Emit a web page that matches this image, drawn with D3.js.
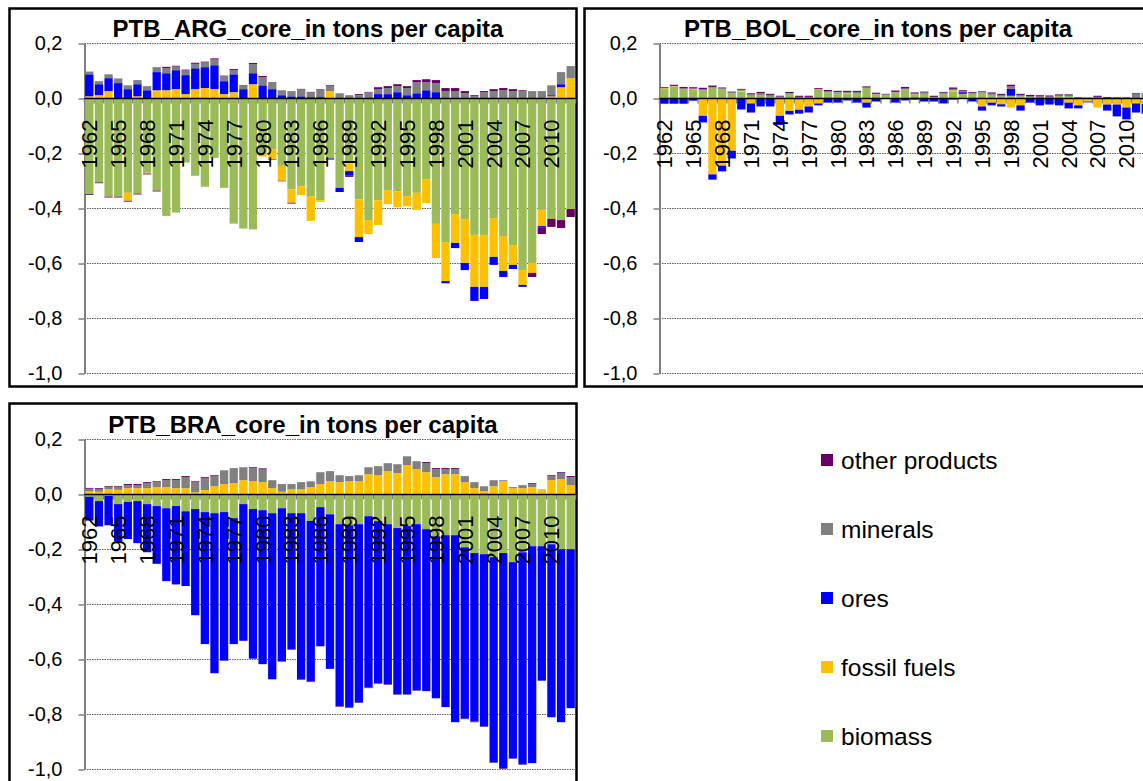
<!DOCTYPE html>
<html><head><meta charset="utf-8">
<script src="https://cdn.jsdelivr.net/npm/d3@7"></script>
<style>
body{margin:0;background:#fff;}
svg{display:block;}
</style>
</head><body>
<svg id="chart" width="1143" height="781"></svg>
<script>
const years = [1962,1963,1964,1965,1966,1967,1968,1969,1970,1971,1972,1973,1974,1975,1976,1977,1978,1979,1980,1981,
  1982,1983,1984,1985,1986,1987,1988,1989,1990,1991,1992,1993,1994,1995,1996,1997,1998,1999,2000,2001,
  2002,2003,2004,2005,2006,2007,2008,2009,2010,2011,2012];
const yearTickLabels = [1962,1965,1968,1971,1974,1977,1980,1983,1986,1989,1992,1995,1998,2001,2004,2007,2010];
const yTicks = [0.2,0,-0.2,-0.4,-0.6,-0.8,-1.0];
const seriesNames = ["biomass","fossil fuels","ores","minerals","other products"];
const seriesColors = ["#9BBB59","#FFC000","#0000FF","#808080","#660066"];
const legendOrder = ["other products","minerals","ores","fossil fuels","biomass"];

// ARG
const argBiomass = [-0.348,-0.305,-0.357,-0.357,-0.343,-0.346,-0.270,-0.335,-0.427,-0.415,
  -0.233,-0.281,-0.321,-0.216,-0.325,-0.455,-0.473,-0.476,-0.201,-0.184,
  -0.245,-0.330,-0.319,-0.355,-0.370,-0.218,-0.325,-0.236,-0.367,-0.442,
  -0.370,-0.333,-0.337,-0.355,-0.343,-0.293,-0.456,-0.522,-0.420,-0.438,
  -0.496,-0.496,-0.435,-0.500,-0.533,-0.624,-0.598,-0.405,-0.438,-0.442,-0.402];
const argFossil = [0.008,0.012,0.027,0,-0.029,0.008,-0.003,0.030,0.030,0.034,
  0.016,0.034,0.038,0.034,0.016,0.023,0,0.052,-0.010,-0.036,
  -0.054,-0.049,-0.032,-0.090,-0.006,0.027,0,-0.028,-0.137,-0.051,
  -0.090,-0.051,-0.058,-0.037,-0.062,-0.087,-0.124,-0.142,-0.105,-0.160,
  -0.189,-0.189,-0.141,-0.127,-0.072,-0.054,-0.036,-0.059,0.008,0.041,0.074];
const argOres = [0.080,0.040,0.047,0.056,0.034,0.044,0.030,0.066,0.062,0.069,
  0.069,0.076,0.076,0.087,0.047,0.065,0.034,0.040,0.048,0.034,
  0.012,0.008,0.008,0.005,0.005,-0.004,-0.015,-0.017,-0.018,0,
  0.016,0.016,0.023,0.012,0.019,0.030,0.023,-0.008,-0.019,-0.026,
  -0.051,-0.044,-0.029,-0.022,-0.015,-0.007,0,-0.006,0.004,0.011,0];
const argMinerals = [0.010,0.011,0.014,0.017,0.014,0.015,0.015,0.018,0.019,0.013,
  0.017,0.016,0.017,0.021,0.021,0.015,0.013,0.033,0.030,0.026,
  0.018,0.019,0.025,0.017,0.027,0.018,0.019,0.012,0.012,0.022,
  0.018,0.022,0.022,0.026,0.040,0.029,0.033,0.027,0.027,0.019,
  0.008,0.023,0.027,0.030,0.027,0.027,0.027,0.027,0.036,0.044,0.044];
const argOther = [-0.003,-0.003,-0.003,-0.003,-0.003,-0.003,-0.003,-0.003,0.004,0.003,
  0.003,0.004,0.003,0.004,0,0.004,0.002,0.004,0.004,-0.002,
  -0.002,-0.003,0.002,0.002,0.002,0.003,0,-0.004,0.004,0.002,
  0.007,0.007,0.007,0.007,0.008,0.011,0.011,0.011,0.011,0.008,
  0.004,0.004,0.007,0.008,0.007,0.003,-0.015,-0.023,-0.029,-0.029,-0.029];

// BOL
const bolBiomass = [0.034,0.042,0.033,0.031,0.029,0.039,0.034,0.019,0.025,0.010,
  0.012,0.006,0.003,0.017,-0.006,0.002,0.034,0.023,0.021,0.017,
  0.020,0.038,0.015,0.013,0.022,0.033,0.013,0.017,0.004,0.017,
  0.026,0.017,0.017,0.021,0.013,0.008,0.010,0.008,0.005,0.002,
  0.002,0.009,0.009,0.001,0.001,0.001,0,0,0,0.001,0.001];
const bolFossil = [0.003,0.002,0,0.003,-0.063,-0.276,-0.244,-0.190,0.003,-0.018,
  0,0,-0.063,-0.045,-0.035,-0.029,-0.018,0,0,0.003,
  0,-0.015,0,0,0,0,0.002,0,0,0,
  0.004,0,0,-0.029,-0.015,-0.021,-0.033,-0.025,0,0,
  0,0,-0.015,-0.025,-0.011,-0.033,-0.022,-0.022,-0.033,-0.018,-0.020];
const bolOres = [-0.019,-0.019,-0.019,-0.008,-0.024,-0.019,-0.021,-0.028,-0.040,-0.033,
  -0.029,-0.029,-0.033,-0.013,-0.014,-0.022,-0.007,-0.015,-0.015,-0.007,
  -0.015,-0.018,-0.011,-0.002,-0.015,-0.007,-0.004,-0.011,-0.011,-0.018,
  -0.004,0.006,-0.011,-0.015,-0.010,-0.008,0.025,-0.019,-0.015,-0.025,
  -0.022,-0.025,-0.021,-0.011,-0.003,0,-0.022,-0.043,-0.043,-0.033,-0.035];
const bolMinerals = [0.001,0.002,0.004,0.003,0.005,0.003,0.003,0.003,0.004,0.005,
  0.007,0.007,0.004,0.003,0.006,0.004,0.001,0.003,0.003,0.004,
  0.004,0.002,0.002,0.002,0.002,0.003,0.003,0.005,0.002,0.004,
  0.005,0.004,0.004,0.002,0.005,0.005,0.009,0.005,0.004,0.006,
  0.005,0.002,0.002,0.002,0,0.005,0.002,0.001,0.001,0.015,0.015];
const bolOther = [0.003,0.004,0.005,0.004,0.005,0.005,0.003,0.003,0.003,0.004,
  0.005,0.004,0.003,0.004,0.004,0.004,0.003,0.005,0.004,0.004,
  0.004,0.004,0.004,0.002,0.005,0.006,0.004,0.003,0.004,0.003,
  0.005,0.003,0.003,0.003,0.004,0.004,0.006,0.004,0.004,0.004,
  0.004,0.004,0.004,0.002,0.002,0.004,0.003,0.003,0.003,0.003,0.003];

// BRA
const braBiomass = [-0.008,-0.024,-0.005,-0.035,-0.027,-0.024,-0.035,-0.042,-0.050,-0.042,
  -0.061,-0.053,-0.064,-0.068,-0.064,-0.086,-0.035,-0.053,-0.057,-0.068,
  -0.050,-0.068,-0.068,-0.096,-0.046,-0.072,-0.108,-0.112,-0.108,-0.079,
  -0.097,-0.108,-0.122,-0.115,-0.108,-0.126,-0.152,-0.148,-0.148,-0.192,
  -0.213,-0.217,-0.228,-0.213,-0.246,-0.210,-0.188,-0.188,-0.181,-0.199,-0.199];
const braFossil = [0.012,0.010,0.019,0.017,0.023,0.023,0.023,0.027,0.027,0.023,
  0.023,0.008,0.016,0.030,0.038,0.041,0.052,0.048,0.045,0.023,
  0.010,0.019,0.019,0.027,0.038,0.048,0.045,0.048,0.048,0.074,
  0.070,0.085,0.078,0.107,0.092,0.081,0.063,0.074,0.074,0.045,
  0.023,0.012,0.030,0.048,0.023,0.023,0.027,0.016,0.052,0.056,0.034];
const braOres = [-0.087,-0.092,-0.107,-0.135,-0.135,-0.153,-0.175,-0.210,-0.265,-0.285,
  -0.272,-0.386,-0.480,-0.582,-0.539,-0.458,-0.497,-0.544,-0.560,-0.604,
  -0.556,-0.495,-0.604,-0.584,-0.506,-0.562,-0.662,-0.662,-0.648,-0.623,
  -0.589,-0.582,-0.604,-0.611,-0.604,-0.589,-0.589,-0.625,-0.680,-0.623,
  -0.613,-0.626,-0.746,-0.783,-0.713,-0.771,-0.789,-0.489,-0.629,-0.629,-0.578];
const braMinerals = [0.009,0.009,0.008,0.010,0.011,0.011,0.018,0.018,0.025,0.029,
  0.040,0.037,0.043,0.037,0.050,0.055,0.047,0.048,0.046,0.029,
  0.028,0.019,0.026,0.021,0.043,0.037,0.025,0.019,0.022,0.025,
  0.033,0.029,0.032,0.032,0.029,0.033,0.029,0.018,0.018,0.022,
  0.022,0.018,0.022,0.004,0.004,0.011,0.011,0.002,0.015,0.022,0.029];
const braOther = [0.003,0.004,0.003,0.003,0.004,0.004,0.004,0.003,0.004,0.004,
  0.004,0.003,0.004,0.003,-0.002,0,0,0.003,0.004,0,
  -0.002,-0.002,-0.002,-0.002,0,0,-0.002,-0.002,-0.002,-0.002,
  -0.002,-0.002,-0.002,-0.002,-0.002,0.004,0.004,0.004,0.004,-0.002,
  -0.002,-0.002,-0.002,-0.002,-0.002,-0.002,0.003,0,0.003,0.003,0.004];

const panels = [
  {title:"PTB_ARG_core_in tons per capita", series:[argBiomass,argFossil,argOres,argMinerals,argOther],
   axisX:84.5, top:43.5, box:[9.5,8.5,567,378], titleX:308},
  {title:"PTB_BOL_core_in tons per capita", series:[bolBiomass,bolFossil,bolOres,bolMinerals,bolOther],
   axisX:659.5, top:43.5, box:[584.5,8.5,600,378], titleX:878},
  {title:"PTB_BRA_core_in tons per capita", series:[braBiomass,braFossil,braOres,braMinerals,braOther],
   axisX:84.5, top:439.5, box:[9.5,403.5,567,400], titleX:303}
];

const FONT = "'Liberation Sans', Arial, Helvetica, sans-serif";
const svg = d3.select("#chart");
svg.append("rect").attr("width",1143).attr("height",781).attr("fill","#fff");

function fmt(v){
  const s = Math.abs(v).toFixed(1).replace(".", ",");
  return (v < -1e-9 ? "-" : "") + s;
}

panels.forEach(p => {
  const g = svg.append("g");
  const plotW = 491;
  const x = d3.scaleBand().domain(years).range([p.axisX, p.axisX + plotW]).paddingInner(0.14).paddingOuter(0.07);
  const y = d3.scaleLinear().domain([-1, 0.2]).range([p.top + 330, p.top]);

  // border
  g.append("rect").attr("x", p.box[0]).attr("y", p.box[1]).attr("width", p.box[2]).attr("height", p.box[3])
    .attr("fill", "none").attr("stroke", "#000").attr("stroke-width", 2.5);

  // gridlines
  g.append("g").selectAll("line").data(yTicks.filter(v => v !== 0)).join("line")
    .attr("x1", p.axisX).attr("x2", p.axisX + plotW)
    .attr("y1", d => y(d)).attr("y2", d => y(d))
    .attr("stroke", "#606060").attr("stroke-width", 1.2).attr("stroke-dasharray", "1.5,1");

  // y axis
  const ya = g.append("g").attr("transform", `translate(${p.axisX},0)`)
    .call(d3.axisLeft(y).tickValues(yTicks).tickFormat(fmt).tickSize(6).tickSizeOuter(0).tickPadding(16));
  ya.attr("font-family", FONT).attr("font-size", 20);
  ya.select(".domain").attr("stroke", "#808080").attr("stroke-width", 2);
  ya.selectAll(".tick line").attr("stroke", "#808080").attr("stroke-width", 1.5);
  ya.selectAll(".tick text").attr("fill", "#000");

  // category tick marks at band boundaries
  const step = x.step();
  const y0 = y(0);
  g.append("g").selectAll("line").data(years.concat([null])).join("line")
    .attr("x1", (d, i) => p.axisX + i * step).attr("x2", (d, i) => p.axisX + i * step)
    .attr("y1", y0).attr("y2", y0 + 5)
    .attr("stroke", "#808080").attr("stroke-width", 1.5);

  // stacked bars
  const rows = years.map((yr, i) => {
    const r = {year: yr};
    seriesNames.forEach((n, k) => r[n] = p.series[k][i]);
    return r;
  });
  const stacked = d3.stack().keys(seriesNames).offset(d3.stackOffsetDiverging)(rows);
  const color = d3.scaleOrdinal().domain(seriesNames).range(seriesColors);
  g.append("g").selectAll("g").data(stacked).join("g")
    .attr("fill", d => color(d.key))
    .selectAll("rect").data(d => d).join("rect")
    .attr("x", d => x(d.data.year))
    .attr("width", x.bandwidth())
    .attr("y", d => y(Math.max(d[0], d[1])))
    .attr("height", d => Math.abs(y(d[0]) - y(d[1])));

  // zero line
  g.append("line").attr("x1", p.axisX).attr("x2", p.axisX + plotW)
    .attr("y1", y0).attr("y2", y0).attr("stroke", "#000").attr("stroke-width", 1.5);

  // year labels (rotated)
  const xa = g.append("g").attr("transform", `translate(0,${y0})`)
    .call(d3.axisBottom(x).tickValues(yearTickLabels).tickSize(0).tickSizeOuter(0));
  xa.select(".domain").remove();
  xa.attr("font-family", FONT).attr("font-size", 22);
  xa.selectAll(".tick text")
    .attr("fill", "#000")
    .attr("transform", "rotate(-90)")
    .attr("text-anchor", "end")
    .attr("x", -21).attr("y", 0).attr("dy", "0.36em");

  // title
  g.append("text").attr("x", p.titleX).attr("y", p.top - 7)
    .attr("text-anchor", "middle").attr("font-family", FONT).attr("font-size", 24).attr("font-weight", "bold")
    .text(p.title);
});

// legend
const legendY = d3.scalePoint().domain(legendOrder).range([460, 736]);
const colorL = d3.scaleOrdinal().domain(seriesNames).range(seriesColors);
const lg = svg.append("g");
const items = lg.selectAll("g").data(legendOrder).join("g")
  .attr("transform", d => `translate(821,${legendY(d)})`);
items.append("rect").attr("x", 0).attr("y", -6).attr("width", 12).attr("height", 12).attr("fill", d => colorL(d));
items.append("text").attr("x", 20).attr("y", 0).attr("dy", "0.35em")
  .attr("font-family", FONT).attr("font-size", 24.5).attr("fill", "#000").text(d => d);
</script>
</body></html>
